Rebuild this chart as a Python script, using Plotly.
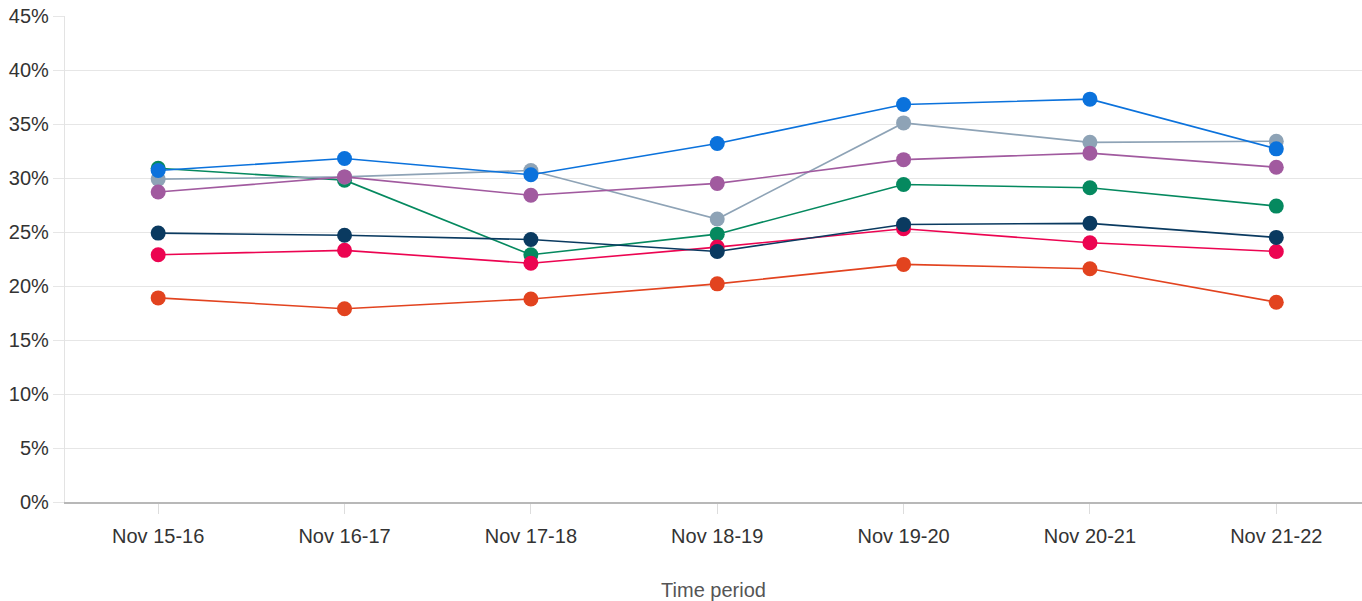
import plotly.graph_objects as go

periods = ["Nov 15-16", "Nov 16-17", "Nov 17-18", "Nov 18-19", "Nov 19-20", "Nov 20-21", "Nov 21-22"]

orange = [18.9, 17.9, 18.8, 20.2, 22.0, 21.6, 18.5]
green = [30.9, 29.8, 22.9, 24.8, 29.4, 29.1, 27.4]
pink = [22.9, 23.3, 22.1, 23.6, 25.3, 24.0, 23.2]
navy = [24.9, 24.7, 24.3, 23.2, 25.7, 25.8, 24.5]
grey = [29.9, 30.1, 30.7, 26.2, 35.1, 33.3, 33.4]
purple = [28.7, 30.1, 28.4, 29.5, 31.7, 32.3, 31.0]
blue = [30.7, 31.8, 30.3, 33.2, 36.8, 37.3, 32.7]

series = [
    (orange, "#e2431f"),
    (green, "#05895f"),
    (pink, "#ec0451"),
    (navy, "#0a3a60"),
    (grey, "#8ea3b6"),
    (purple, "#a15a9f"),
    (blue, "#0b72dc"),
]

fig = go.Figure()
for values, color in series:
    fig.add_trace(go.Scatter(
        x=periods, y=values, mode="lines+markers",
        line=dict(color=color, width=1.6),
        marker=dict(color=color, size=15, line=dict(width=0)),
        showlegend=False,
    ))

fig.update_layout(
    width=1362, height=601,
    margin=dict(l=65, r=0, t=16, b=99),
    paper_bgcolor="white", plot_bgcolor="white",
    font=dict(family="Liberation Sans, Arial, sans-serif", size=20, color="#333333"),
    xaxis=dict(
        type="category", range=[-0.5, 6.46],
        showgrid=False, showline=True, linecolor="#b8b8b8", linewidth=1.5,
        ticks="outside", ticklen=10, tickcolor="#dddddd", tickwidth=1,
        ticklabelstandoff=5,
        tickfont=dict(size=20, color="#333333"),
        title=dict(text="Time period", font=dict(size=20, color="#555555"), standoff=38),
    ),
    yaxis=dict(
        range=[0, 45], dtick=5, ticksuffix="%",
        showgrid=True, gridcolor="#e6e6e6", gridwidth=1.2,
        showline=True, linecolor="#e3e3e3", linewidth=1.2,
        ticks="outside", ticklen=11, tickcolor="#e6e6e6",
        tickfont=dict(size=20, color="#333333"),
        zeroline=False,
    ),
)

fig.write_html("out.html")
